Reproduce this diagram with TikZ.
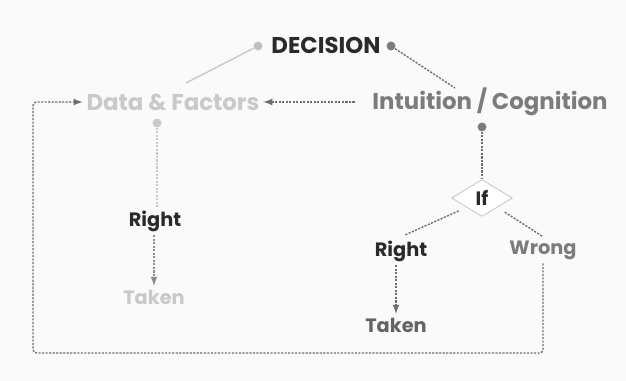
\documentclass[tikz,border=0pt]{standalone}
\usepackage{fontspec}
\setmainfont{Poppins}
\usetikzlibrary{shapes.geometric}

\definecolor{paleword}{HTML}{C9C9C9}
\definecolor{midword}{HTML}{7C7C7C}
\definecolor{darkword}{HTML}{2A2A2A}
\definecolor{lineclr}{HTML}{6E6E6E}

\tikzset{
  word/.style={font=\bfseries\fontsize{13}{15}\selectfont, inner sep=2pt},
  small/.style={font=\bfseries\fontsize{11}{13}\selectfont, inner sep=2pt},
  dot/.style={circle, fill, inner sep=1.8pt},
  dotline/.style={lineclr, thick, dash pattern=on 1.2pt off 0.8pt},
  arrowline/.style={dotline, ->, >=latex},
}

\begin{document}
\begin{tikzpicture}[x=0.02cm,y=-0.02cm]
          \fill[gray!4] (0,0) rectangle (626,381);
          \useasboundingbox (0,0) rectangle (626,381);
          % top
          \node[word, text=darkword] (decision) at (326,45) {DECISION};
          \node[dot, lightgray] (ldot) at (258,46) {};
          \node[dot, midword] (rdot) at (391,46) {};
          \node[word, text=paleword] (data) at (173,102) {Data \& Factors};
          \node[word, text=midword] (intuition) at (490,102) {Intuition / Cognition};
          \coordinate (dtop) at (186,83);
          \coordinate (itop) at (455,88);
          \draw[paleword, thick] (ldot) -- (dtop);
          \draw[dotline] (rdot) -- (itop);
          \draw[arrowline, shorten <=8pt] (intuition.west) -- (data.east);
          % left branch
          \node[dot, paleword] (ddot) at (157,123) {};
          \node[small, text=darkword] (right1) at (155,221) {Right};
          \node[small, text=paleword] (taken1) at (154,297) {Taken};
          \draw[paleword, thick, dash pattern=on 1.2pt off 0.8pt] (ddot) -- (ddot |- right1.north);
          \draw[arrowline, paleword!70!black] (right1.south -| taken1) -- (taken1.north);
          % right branch
          \node[dot, midword] (idot) at (482,127) {};
          \node[diamond, draw=lightgray, fill=white, small, text=darkword, minimum width=61*0.567pt, minimum height=37*0.567pt, inner sep=0pt] (ifbox) at (482,198) {If};
          \node[small, text=darkword] (right2) at (401,251) {Right};
          \node[small, text=midword] (wrong) at (543,250) {Wrong};
          \node[small, text=midword!80!black] (taken2) at (396,325) {Taken};
          \draw[dotline] (idot) -- (ifbox.north);
          \draw[dotline, shorten <=5pt, shorten >=2pt] (ifbox.south west) -- (right2.north);
          \draw[dotline, shorten <=5pt] (ifbox.south east) -- (wrong.north);
          \draw[arrowline] (right2.south -| taken2) -- (taken2.north);
          % loop back
          \coordinate (lowright) at (543,353);
          \coordinate (lowleft) at (33,353);
          \draw[arrowline, rounded corners=2pt] (wrong.south) -- (lowright) -- (lowleft) -- (lowleft |- data) -- (data.west);
        \end{tikzpicture}
\end{document}
